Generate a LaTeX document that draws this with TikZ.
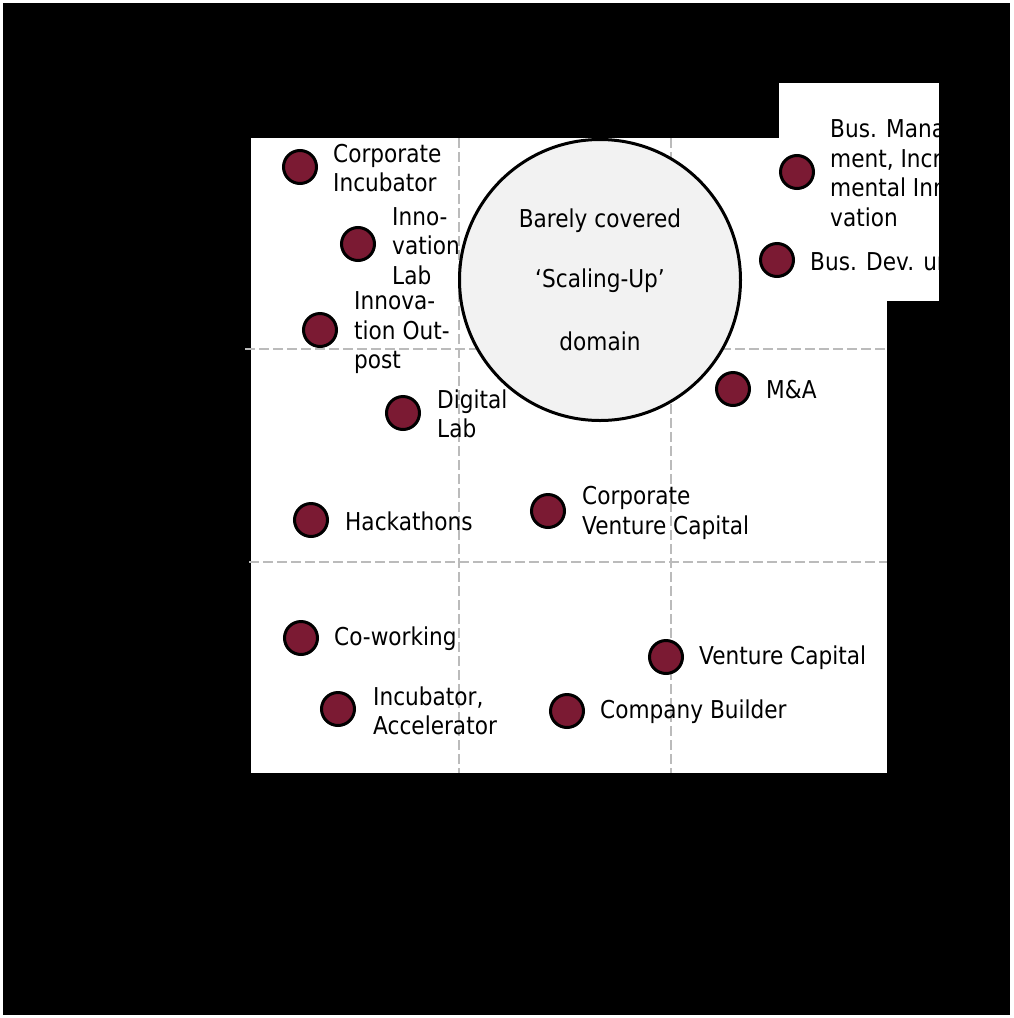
\documentclass[tikz,border=0pt]{standalone}
\usepackage{fontspec}
\setmainfont{DejaVu Sans}[FakeStretch=0.88]
\definecolor{dotred}{HTML}{7B1A33}
\definecolor{gridgray}{HTML}{BBBBBB}
\definecolor{bubble}{HTML}{F2F2F2}
\begin{document}
\begin{tikzpicture}[x=1pt,y=-1pt,
  dot/.style={circle,draw=black,line width=3pt,fill=dotred,minimum size=33pt,inner sep=0pt},
  lbl/.style={anchor=west,align=left,inner sep=0pt,font=\fontsize{24.6}{29.5}\selectfont},
  gridline/.style={draw=gridgray,line width=2.8pt,dash pattern=on 10pt off 4pt},
  bigc/.style={circle,draw=black,line width=3pt,fill=bubble,minimum size=281pt,inner sep=0pt}]
\useasboundingbox (0,0) rectangle (1013,1018);
\fill[white] (0,0) rectangle (1013,1018);
\fill[black] (3,3) rectangle (1010,1015);
% plot area
\fill[white] (251,138) rectangle (887,773);
\fill[white] (779,83) rectangle (939,301);
% grid
\coordinate (v1t) at (459,138); \coordinate (v1b) at (459,773);
\coordinate (v2t) at (671,138); \coordinate (v2b) at (671,773);
\coordinate (h1l) at (245,349); \coordinate (h1r) at (887,349);
\coordinate (h2l) at (249,562); \coordinate (h2r) at (887,562);
\draw[gridline] (v1t) -- (v1b);
\draw[gridline] (v2t) -- (v2b);
\draw[gridline] (h1l) -- (h1r);
\draw[gridline] (h2l) -- (h2r);
% big circle
\node[bigc] (scal) at (600,280) {};
\node[lbl,anchor=center] (sc1) at (600,221) {Barely covered};
\node[lbl,anchor=center] (sc2) at (600,281) {‘Scaling-Up’};
\node[lbl,anchor=center] (sc3) at (600,341) {domain};
% dots and labels
\node[dot] (ci) at (300,167) {};
\node[lbl] (cil) at (333,168) {Corporate\\Incubator};
\node[dot] (il) at (358,244) {};
\node[lbl] (ill) at (392,246) {Inno-\\vation\\Lab};
\node[dot] (io) at (320,330) {};
\node[lbl] (iol) at (354,333) {Innova-\\tion Out-\\post};
\node[dot] (dl) at (403,413) {};
\node[lbl] (dll) at (437,414) {Digital\\Lab};
\node[dot] (hk) at (311,520) {};
\node[lbl] (hkl) at (345,521) {Hackathons};
\node[dot] (cvc) at (548,511) {};
\node[lbl] (cvcl) at (582,513) {Corporate\\Venture Capital};
\node[dot] (ma) at (733,389) {};
\node[lbl] (mal) at (766,390) {M\&A};
\node[dot] (bm) at (797,172) {};
\node[dot] (bd) at (777,260) {};
\begin{scope}
\clip (779,83) rectangle (939,301);
\node[lbl] (bml) at (830,173) {Bus. Manage-\\ment, Incre-\\mental Inno-\\vation};
\node[lbl] (bdl) at (810,261) {Bus. Dev. unit};
\end{scope}
\node[dot] (cw) at (301,638) {};
\node[lbl] (cwl) at (334,639) {Co-working};
\node[dot] (vc) at (666,657) {};
\node[lbl] (vcl) at (699,658) {Venture Capital};
\node[dot] (ia) at (338,709) {};
\node[lbl] (ial) at (373,711) {Incubator,\\Accelerator};
\node[dot] (cb) at (567,711) {};
\node[lbl] (cbl) at (600,712) {Company Builder};
\end{tikzpicture}
\end{document}
